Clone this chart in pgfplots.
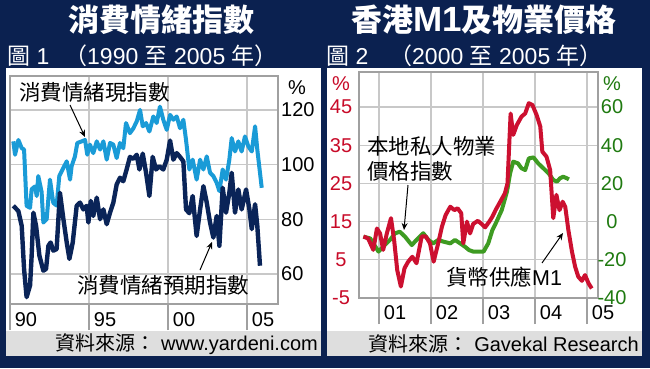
\documentclass[border=0pt]{standalone}
\usepackage{pgfplots}
\pgfplotsset{compat=1.18}
\usepackage{fontspec}
\setmainfont{Liberation Sans}
\newfontfamily\cjk{Noto Sans CJK TC}
\newfontfamily\cjkblack{Noto Sans CJK TC Black}
\usetikzlibrary{arrows.meta}
\definecolor{navy}{HTML}{0B2150}
\definecolor{footgray}{HTML}{DEDEDE}
\definecolor{framegray}{HTML}{A0A0A0}
\definecolor{gridgray}{HTML}{C8C8C8}
\definecolor{lblue}{HTML}{1A9BD7}
\definecolor{dblue}{HTML}{0A2458}
\definecolor{mred}{HTML}{CC1030}
\definecolor{pgreen}{HTML}{3E9B22}
\definecolor{redlab}{HTML}{C80A28}
\definecolor{greenlab}{HTML}{1F7A10}
\pgfplotsset{
  panel/.style={
    scale only axis, anchor=south west,
    axis line style={draw=framegray, line width=1.3pt},
    major grid style={draw=gridgray, line width=1.3pt},
    tick label style={font=\fontsize{20}{20}\selectfont},
    /pgf/number format/assume math mode=true,
    tick align=inside, major tick length=26pt,
    xtick pos=left,
    xtick style={draw=framegray, line width=1.3pt, yshift=-26pt},
    ytick style={draw=none},
    xticklabel style={anchor=center, inner sep=0pt, xshift=16pt, yshift=-16pt},
  }
}
\begin{document}
\begin{tikzpicture}[x=1pt,y=1pt]
\useasboundingbox (0,0) rectangle (650,368);
\fill[navy] (0,0) rectangle (650,368);
\fill[white] (6,37) rectangle (321,300);
\fill[white] (327,37) rectangle (642,300);
\fill[footgray] (6,12) rectangle (321,37);
\fill[footgray] (327,12) rectangle (642,37);

% titles
\node[white, inner sep=0, font=\cjkblack\fontsize{31}{31}\selectfont] at (161.5,348) {消費情緒指數};
\node[white, inner sep=0] at (484,348) {{\cjkblack\fontsize{31}{31}\selectfont 香港}{\bfseries\fontsize{35}{35}\selectfont M1}{\cjkblack\fontsize{31}{31}\selectfont 及物業價格}};
\node[white, anchor=west, inner sep=0, font=\fontsize{23}{23}\selectfont] at (7,312) {{\cjk 圖} 1};
\node[white, anchor=west, inner sep=0, font=\fontsize{23}{23}\selectfont] at (64,312) {{\cjk （}1990 {\cjk 至} 2005 {\cjk 年）}};
\node[white, anchor=west, inner sep=0, font=\fontsize{23}{23}\selectfont] at (326,312) {{\cjk 圖} 2};
\node[white, anchor=west, inner sep=0, font=\fontsize{23}{23}\selectfont] at (389,312) {{\cjk （}2000 {\cjk 至} 2005 {\cjk 年）}};

% footers
\node[anchor=east, inner sep=0, font=\fontsize{20}{20}\selectfont] at (318,24) {{\cjk 資料來源：} www.yardeni.com};
\node[anchor=east, inner sep=0, font=\fontsize{20}{20}\selectfont] at (639,24) {{\cjk 資料來源：} Gavekal Research};

% ---------------- left chart
\begin{axis}[panel,
  at={(10pt,64pt)}, width=268pt, height=228pt,
  xmin=1990, xmax=2006.96, ymin=49.0, ymax=132.4,
  grid=major,
  xtick={1990,1995,2000,2005}, xticklabels={90,95,00,05},
  ytick={60,80,100,120}, yticklabels={60,80,100,120},
  yticklabel pos=right,
  yticklabel style={anchor=west, inner sep=0pt, xshift=3pt},
]
\addplot[lblue, line width=4pt, line join=round] coordinates {
(1990.21,108.5)(1990.32,103.6)(1990.53,109)(1990.74,106)(1990.89,105.5)(1991.05,84.9)(1991.27,84.2)(1991.37,91)(1991.58,92)(1991.69,88.5)(1991.79,95.8)(1992.00,90)(1992.11,78.8)(1992.32,80)(1992.53,94.5)(1992.74,86)(1992.95,85)(1993.12,95.8)(1993.38,98.8)(1993.59,101.2)(1993.80,94.5)(1993.90,99.4)(1994.11,103)(1994.26,107.9)(1994.54,108.5)(1994.75,109)(1994.89,103.6)(1995.06,107.3)(1995.27,104.2)(1995.49,108.5)(1995.70,105.5)(1995.91,108.5)(1996.12,101.8)(1996.33,107.9)(1996.54,107.3)(1996.75,102.4)(1996.96,107.9)(1997.17,106)(1997.34,115.2)(1997.59,111.5)(1997.81,113.3)(1998.02,115.8)(1998.23,120)(1998.40,114)(1998.61,115.2)(1998.82,112.1)(1999.07,117.6)(1999.28,115.2)(1999.49,121.2)(1999.70,116.4)(1999.92,112.7)(2000.13,118.2)(2000.34,116.4)(2000.55,117.6)(2000.76,113.3)(2000.97,116.4)(2001.14,109)(2001.35,98.2)(2001.56,101.8)(2001.81,94.5)(2002.03,101.8)(2002.24,98.2)(2002.45,103)(2002.66,97)(2002.87,95.8)(2003.08,93.3)(2003.25,90.3)(2003.46,98.2)(2003.67,94.5)(2003.88,101.8)(2004.03,109.7)(2004.24,104.8)(2004.45,108.5)(2004.66,104.8)(2004.87,110.3)(2005.08,106.7)(2005.30,104.8)(2005.51,114)(2005.65,105.5)(2005.93,91.5)
};
\addplot[dblue, line width=4.4pt, line join=round] coordinates {
(1990.21,84.9)(1990.53,83.0)(1990.74,77.6)(1990.89,61.8)(1991.05,51.5)(1991.27,55.8)(1991.37,66.7)(1991.48,82.4)(1991.65,77.6)(1991.86,66.7)(1992.11,61.2)(1992.28,61.8)(1992.43,70.3)(1992.57,71.5)(1992.74,68.5)(1992.95,69.1)(1993.16,89.7)(1993.38,80.0)(1993.59,71.5)(1993.76,65.5)(1993.97,71.5)(1994.22,84.9)(1994.43,86.1)(1994.64,83.6)(1994.85,84.9)(1994.96,78.8)(1995.11,86.7)(1995.27,81.2)(1995.49,87.9)(1995.70,80.0)(1995.91,83.6)(1996.12,78.2)(1996.33,82.4)(1996.54,86.1)(1996.75,92.7)(1996.96,95.2)(1997.17,93.9)(1997.38,98.2)(1997.59,102.8)(1997.81,102.1)(1998.02,103.6)(1998.19,98.2)(1998.40,104.0)(1998.61,97.0)(1998.82,88.5)(1999.03,102.8)(1999.24,98.2)(1999.45,99.4)(1999.70,98.2)(1999.92,101.8)(2000.13,108.8)(2000.34,101.8)(2000.55,104.2)(2000.76,102.8)(2000.97,101.2)(2001.14,83.6)(2001.35,82.2)(2001.56,88.5)(2001.81,73.9)(2002.03,83.6)(2002.24,92.1)(2002.45,86.1)(2002.66,78.8)(2002.87,73.3)(2003.08,81.2)(2003.25,70.3)(2003.46,91.5)(2003.67,82.4)(2003.88,89.7)(2004.03,97.0)(2004.24,82.4)(2004.45,90.9)(2004.66,83.6)(2004.94,90.9)(2005.15,83.6)(2005.30,76.4)(2005.51,85.5)(2005.65,77.6)(2005.82,63.0)
};
\end{axis}

% ---------------- right chart, property (right axis)
\begin{axis}[panel,
  at={(359pt,70pt)}, width=239pt, height=226pt,
  xmin=2000.615, xmax=2005.21, ymin=-40, ymax=78.32,
  grid=major,
  xtick={2001,2002,2003,2004,2005}, xticklabels={01,02,03,04,05},
  xticklabel style={yshift=1.5pt},
  ytick={-40,-20,0,20,40,60}, yticklabels={-40,-20,0,20,40,60},
  yticklabel pos=right,
  yticklabel style={text=greenlab, anchor=center, inner sep=0pt, xshift=14pt},
]
\addplot[pgreen, line width=4pt, line join=round] coordinates {
(2000.70,-7.9)(2000.83,-8.8)(2000.99,-15.7)(2001.08,-13.1)(2001.21,-9.6)(2001.31,-6.1)(2001.40,-5.3)(2001.50,-7.9)(2001.63,-12.3)(2001.72,-9.6)(2001.85,-6.1)(2001.95,-9.6)(2002.04,-11.4)(2002.14,-9.6)(2002.24,-10.5)(2002.37,-11.4)(2002.46,-9.6)(2002.56,-11.4)(2002.65,-13.1)(2002.73,-14.9)(2002.81,-15.7)(2002.91,-15.7)(2003.01,-15.7)(2003.10,-11.4)(2003.18,-4.4)(2003.26,0.0)(2003.36,6.1)(2003.46,15.7)(2003.52,25.3)(2003.58,31.4)(2003.67,30.5)(2003.74,27.9)(2003.81,27.0)(2003.88,33.1)(2003.97,33.6)(2004.06,30.5)(2004.16,27.9)(2004.26,25.3)(2004.35,21.8)(2004.42,20.9)(2004.48,22.7)(2004.54,23.5)(2004.61,22.7)(2004.65,22.1)
};
\end{axis}

% ---------------- right chart, M1 (left axis)
\begin{axis}[panel,
  at={(359pt,70pt)}, width=239pt, height=226pt,
  xmin=2000.615, xmax=2005.21, ymin=-5, ymax=54.16,
  hide x axis, axis y line*=left, y axis line style={draw=none},
  ytick={-5,5,15,25,35,45}, yticklabels={-5,5,15,25,35,45},
  yticklabel style={text=redlab, anchor=center, inner sep=0pt, xshift=-18pt},
]
\addplot[mred, line width=4pt, line join=round] coordinates {
(2000.70,11.1)(2000.79,10.6)(2000.89,7.6)(2000.96,13.2)(2001.02,11.9)(2001.08,7.6)(2001.15,11.9)(2001.23,15.9)(2001.29,10.2)(2001.35,2.3)(2001.42,-2.0)(2001.49,2.8)(2001.56,4.5)(2001.64,5.8)(2001.72,4.1)(2001.82,11.1)(2001.90,11.1)(2001.98,9.3)(2002.05,4.5)(2002.13,8.9)(2002.21,13.7)(2002.28,16.7)(2002.37,18.9)(2002.45,18.0)(2002.51,18.5)(2002.58,17.2)(2002.62,9.3)(2002.69,15.0)(2002.75,11.9)(2002.81,14.4)(2002.90,15.2)(2002.97,14.4)(2003.04,13.5)(2003.12,15.0)(2003.18,16.3)(2003.24,18.0)(2003.33,20.2)(2003.42,22.4)(2003.47,25.0)(2003.53,43.3)(2003.58,37.7)(2003.65,40.3)(2003.74,42.5)(2003.81,43.3)(2003.88,46.0)(2003.95,45.5)(2004.03,42.9)(2004.10,39.9)(2004.14,33.3)(2004.22,32.0)(2004.29,28.5)(2004.35,15.9)(2004.41,22.0)(2004.47,18.0)(2004.53,20.2)(2004.58,18.9)(2004.64,12.8)(2004.71,7.1)(2004.77,3.2)(2004.83,0.6)(2004.90,-0.5)(2004.96,1.0)(2005.03,-1.2)(2005.09,-2.5)
};
\end{axis}

% percent signs
\node[inner sep=0, font=\fontsize{20}{20}\selectfont] at (297,280) {\%};
\node[inner sep=0, text=redlab, font=\fontsize{20}{20}\selectfont] at (341,284.5) {\%};
\node[inner sep=0, text=greenlab, font=\fontsize{20}{20}\selectfont] at (612,284.5) {\%};

% annotations
\node[anchor=west, inner sep=0, font=\cjk\fontsize{21.5}{21.5}\selectfont] at (19,276) {消費情緒現指數};
\draw[line width=1pt, -{Stealth[length=7pt,width=6pt]}] (70,263) -- (85,231);
\node[anchor=west, inner sep=0, font=\cjk\fontsize{21.5}{21.5}\selectfont] at (77,83) {消費情緒預期指數};
\draw[line width=1pt, -{Stealth[length=7pt,width=6pt]}] (200,98) -- (212,126);
\node[anchor=west, inner sep=0, font=\cjk\fontsize{21.5}{21.5}\selectfont] at (367,222) {本地私人物業};
\node[anchor=west, inner sep=0, font=\cjk\fontsize{21.5}{21.5}\selectfont] at (367,197) {價格指數};
\draw[line width=1pt, -{Stealth[length=7pt,width=6pt]}] (408,183) -- (404,138);
\node[anchor=west, inner sep=0, font=\fontsize{21.5}{21.5}\selectfont] at (446,91) {{\cjk 貨幣供應}M1};
\draw[line width=1pt, -{Stealth[length=7pt,width=6pt]}] (542,105) -- (563,135);
\end{tikzpicture}
\end{document}
